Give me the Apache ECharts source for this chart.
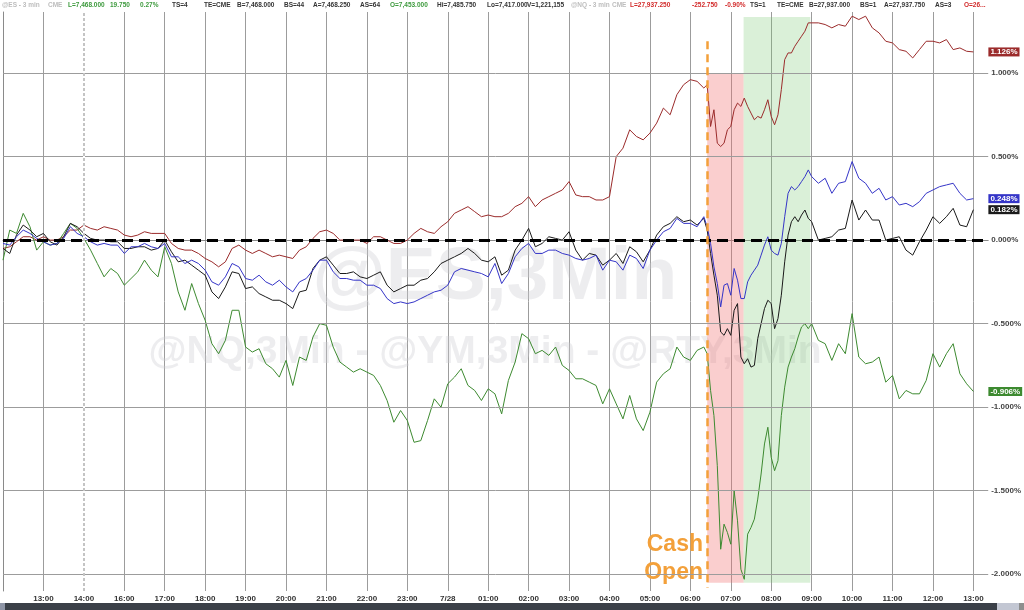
<!DOCTYPE html>
<html>
<head>
<meta charset="utf-8">
<script src="https://cdn.jsdelivr.net/npm/echarts@6/dist/echarts.min.js"></script>
<style>
html,body{margin:0;padding:0;background:#fff;}
#chart{width:1024px;height:610px;}
</style>
</head>
<body>
<div id="chart"></div>
<script>
// Session clock in minutes after 12:00 (the 14:00-15:00 halt is collapsed, as on the source chart)
const hourLabels = ['13:00','14:00','16:00','17:00','18:00','19:00','20:00','21:00','22:00','23:00','7/28',
  '01:00','02:00','03:00','04:00','05:00','06:00','07:00','08:00','09:00','10:00','11:00','12:00','13:00'];
const yTickValues = [1, 0.5, 0, -0.5, -1, -1.5, -2];
const gridLevels = [1, 0.5, -0.5, -1, -1.5, -2];

// sample times: 10-min overnight, 5-min around the cash open, 10-min afterwards
const times = [];
for (let m = 0; m <= 1040; m += 10) times.push(m);
for (let m = 1045; m <= 1200; m += 5) times.push(m);
for (let m = 1210; m <= 1440; m += 10) times.push(m);

// % change, RTY (red)
const rtyOvernight = [-0.05,-0.04,-0.01,0.02,0.02,0.00,0.02,0.00,0.00,0.02,
  0.06,0.06,0.09,0.07,0.06,0.08,0.07,0.06,0.03,0.02,
  0.03,0.05,0.04,0.04,0.04,-0.02,-0.05,-0.06,-0.06,-0.08,
  -0.11,-0.13,-0.16,-0.13,-0.05,-0.03,-0.06,-0.08,-0.06,-0.08,
  -0.10,-0.09,-0.10,-0.11,-0.06,-0.04,0.01,0.05,0.06,0.04,
  0.00,0.00,0.00,0.00,-0.02,0.02,0.02,0.00,-0.02,-0.02,
  0.00,0.04,0.07,0.05,0.04,0.08,0.11,0.16,0.18,0.20,
  0.17,0.14,0.15,0.14,0.14,0.16,0.20,0.22,0.26,0.20,
  0.24,0.26,0.28,0.30,0.35,0.27,0.26,0.26,0.24,0.24,
  0.26,0.50,0.55,0.66,0.62,0.60,0.64,0.70,0.79,0.75,
  0.87,0.93,0.96,0.95,0.91];
const rtyOpen = [0.93,0.68,0.78,0.58,0.56,0.58,0.66,0.68,0.78,0.82,0.80,0.85,0.80,0.76,0.72,0.74,
  0.73,0.78,0.84,0.74,0.69,0.75,0.90,1.08,1.12,1.12,1.16,1.19,1.22,1.25,1.30,1.30];
const rtyLate = [1.30,1.29,1.27,1.29,1.28,1.34,1.32,1.34,1.27,1.24,1.19,1.18,1.14,1.13,1.09,1.14,
  1.19,1.19,1.18,1.20,1.14,1.15,1.13,1.126];

// % change, ES (blue)
const esOvernight = [-0.02,-0.03,0.02,0.06,0.04,0.01,-0.01,-0.03,-0.02,0.01,
  0.08,0.04,0.02,-0.01,-0.03,-0.02,-0.03,-0.03,-0.08,-0.04,
  -0.04,-0.02,-0.04,-0.05,-0.02,-0.10,-0.10,-0.14,-0.12,-0.14,
  -0.18,-0.25,-0.27,-0.22,-0.14,-0.16,-0.23,-0.24,-0.21,-0.25,
  -0.27,-0.24,-0.28,-0.31,-0.25,-0.23,-0.18,-0.12,-0.12,-0.19,
  -0.23,-0.23,-0.24,-0.24,-0.27,-0.27,-0.29,-0.35,-0.38,-0.37,
  -0.38,-0.37,-0.35,-0.33,-0.31,-0.30,-0.27,-0.19,-0.17,-0.18,
  -0.19,-0.20,-0.22,-0.14,-0.26,-0.20,-0.10,-0.05,-0.02,-0.08,
  -0.08,-0.06,-0.06,-0.08,-0.09,-0.11,-0.12,-0.11,-0.09,-0.18,
  -0.12,-0.13,-0.18,-0.09,-0.11,-0.17,-0.06,0.00,0.05,0.07,
  0.13,0.10,0.10,0.08,0.14];
const esOpen = [0.08,-0.02,-0.16,-0.26,-0.40,-0.27,-0.26,-0.33,-0.17,-0.24,-0.35,-0.35,-0.25,-0.21,-0.18,-0.15,
  -0.09,-0.03,0.02,-0.06,-0.08,-0.09,-0.02,0.14,0.28,0.32,0.30,0.32,0.35,0.38,0.42,0.38];
const esLate = [0.34,0.37,0.28,0.34,0.35,0.47,0.37,0.34,0.28,0.31,0.24,0.26,0.21,0.22,0.20,0.23,
  0.28,0.30,0.32,0.33,0.34,0.28,0.24,0.248];

// % change, YM (black)
const ymOvernight = [-0.05,-0.08,0.03,0.09,0.06,0.02,0.04,-0.01,-0.03,0.02,
  0.10,0.08,0.04,0.01,0.00,0.00,-0.01,-0.01,-0.05,-0.05,
  -0.04,-0.04,-0.06,-0.05,0.00,-0.07,-0.13,-0.12,-0.15,-0.18,
  -0.21,-0.31,-0.35,-0.28,-0.19,-0.20,-0.29,-0.28,-0.32,-0.34,
  -0.36,-0.36,-0.38,-0.41,-0.31,-0.30,-0.17,-0.12,-0.10,-0.15,
  -0.20,-0.20,-0.19,-0.22,-0.23,-0.21,-0.19,-0.27,-0.31,-0.29,
  -0.27,-0.27,-0.24,-0.23,-0.19,-0.14,-0.12,-0.10,-0.08,-0.05,
  -0.08,-0.12,-0.13,-0.10,-0.21,-0.18,-0.06,0.00,0.07,-0.04,
  -0.02,0.02,0.01,0.00,0.05,-0.06,-0.12,-0.08,-0.09,-0.15,
  -0.12,-0.08,-0.14,-0.04,-0.07,-0.13,-0.06,0.03,0.08,0.10,
  0.14,0.11,0.12,0.09,0.13];
const ymOpen = [0.06,-0.08,-0.21,-0.33,-0.55,-0.57,-0.53,-0.57,-0.42,-0.38,-0.70,-0.74,-0.71,-0.76,-0.75,-0.59,
  -0.50,-0.41,-0.36,-0.38,-0.53,-0.47,-0.33,-0.13,0.03,0.11,0.14,0.11,0.15,0.18,0.13,0.11];
const ymLate = [0.00,0.01,0.02,0.06,0.07,0.24,0.12,0.18,0.12,0.12,0.00,0.01,0.02,-0.06,-0.09,-0.01,
  0.06,0.14,0.10,0.14,0.19,0.09,0.08,0.182];

// % change, NQ (green)
const nqOvernight = [-0.12,0.06,0.04,0.16,0.08,-0.06,-0.01,-0.03,-0.02,0.04,
  0.10,0.07,0.01,-0.06,-0.14,-0.22,-0.17,-0.20,-0.27,-0.23,
  -0.19,-0.12,-0.18,-0.22,-0.04,-0.14,-0.31,-0.42,-0.26,-0.38,
  -0.48,-0.62,-0.68,-0.60,-0.42,-0.42,-0.64,-0.67,-0.65,-0.74,
  -0.77,-0.82,-0.72,-0.87,-0.70,-0.72,-0.58,-0.50,-0.51,-0.64,
  -0.73,-0.76,-0.79,-0.77,-0.79,-0.81,-0.87,-0.96,-1.09,-1.02,
  -1.08,-1.21,-1.20,-1.08,-0.95,-1.00,-0.86,-0.82,-0.77,-0.87,
  -0.90,-0.96,-0.89,-0.92,-1.04,-0.84,-0.73,-0.56,-0.59,-0.68,
  -0.66,-0.69,-0.64,-0.75,-0.78,-0.83,-0.83,-0.85,-0.87,-0.98,
  -0.89,-0.98,-1.07,-0.93,-1.07,-1.14,-1.03,-0.85,-0.80,-0.77,
  -0.64,-0.70,-0.72,-0.66,-0.64];
const nqOpen = [-0.68,-0.90,-1.05,-1.35,-1.85,-1.70,-1.75,-1.82,-1.50,-1.68,-1.97,-2.03,-1.76,-1.72,-1.67,-1.55,
  -1.40,-1.22,-1.12,-1.30,-1.38,-1.32,-1.05,-0.88,-0.76,-0.70,-0.65,-0.58,-0.52,-0.50,-0.53,-0.50];
const nqLate = [-0.60,-0.62,-0.72,-0.62,-0.68,-0.44,-0.70,-0.74,-0.73,-0.70,-0.85,-0.81,-0.95,-0.90,-0.92,-0.92,
  -0.84,-0.68,-0.76,-0.68,-0.62,-0.80,-0.86,-0.906];

// event markers (session minutes)
const sessionBreak = 120;   // 14:00 halt
const cashOpen = 1045;      // cash open
const sellWindowEnd = 1099;
const recoveryEnd = 1198;

const seriesDefs = [
  { name: '@RTY', color: '#9b2b2b', values: rtyOvernight.concat(rtyOpen, rtyLate) },
  { name: '@NQ',  color: '#3d8a30', values: nqOvernight.concat(nqOpen, nqLate) },
  { name: '@YM',  color: '#1a1a1a', values: ymOvernight.concat(ymOpen, ymLate) },
  { name: '@ES',  color: '#3535c8', values: esOvernight.concat(esOpen, esLate) }
];

const FONT = '"Liberation Sans", Arial, sans-serif';
const chart = echarts.init(document.getElementById('chart'), null, { renderer: 'canvas' });

const lineSeries = seriesDefs.map(d => ({
  name: d.name,
  type: 'line',
  z: 2,
  showSymbol: false,
  symbol: 'none',
  data: times.map((t, k) => [t, d.values[k]]),
  lineStyle: { color: d.color, width: 1 },
  itemStyle: { color: d.color },
  endLabel: {
    show: true,
    distance: 15,
    formatter: p => p.value[1].toFixed(3) + '%',
    backgroundColor: d.color,
    color: '#fff',
    fontFamily: FONT,
    fontSize: 8,
    fontWeight: 'bold',
    padding: [1, 2, 0, 2]
  }
}));

const background = {
  name: 'bg', type: 'line', z: 1, data: [], silent: true,
  markArea: {
    silent: true,
    data: [
      [{ xAxis: cashOpen, yAxis: 1.0, itemStyle: { color: 'rgba(240,110,110,0.34)' } }, { xAxis: sellWindowEnd, yAxis: -2.05 }],
      [{ xAxis: sellWindowEnd, yAxis: 1.335, itemStyle: { color: 'rgba(120,200,110,0.27)' } }, { xAxis: recoveryEnd, yAxis: -2.05 }]
    ]
  },
  markLine: {
    silent: true, symbol: 'none', animation: false,
    label: { show: false },
    data: gridLevels.map(v => ({ yAxis: v, lineStyle: { color: '#9c9c9c', width: 1, type: 'solid' } }))
      .concat([
        { xAxis: sessionBreak, lineStyle: { color: '#ffffff', width: 2, type: 'solid' } },
        { xAxis: sessionBreak, lineStyle: { color: '#c4c4c4', width: 2, type: [3, 2] } }
      ])
  }
};

const foreground = {
  name: 'fg', type: 'line', z: 3, data: [], silent: true,
  markLine: {
    silent: true, symbol: 'none', animation: false,
    label: { show: false },
    data: [
      { yAxis: 0, lineStyle: { color: '#000', width: 3, type: [11, 6] } },
      [{ xAxis: cashOpen, yAxis: 1.19, lineStyle: { color: '#f3a03a', width: 2.5, type: [8, 5] } },
       { xAxis: cashOpen, yAxis: -2.08 }]
    ]
  }
};

const headerItems = [
  ['@ES - 3 min', 2, '#bdbdbd'], ['CME', 48, '#bdbdbd'], ['L=7,468.000', 68, '#3d9a3d'], ['19.750', 110, '#3d9a3d'],
  ['0.27%', 140, '#3d9a3d'], ['TS=4', 172, '#333'], ['TE=CME', 204, '#333'], ['B=7,468.000', 237, '#333'],
  ['BS=44', 284, '#333'], ['A=7,468.250', 313, '#333'], ['AS=64', 360, '#333'], ['O=7,453.000', 390, '#3d9a3d'],
  ['Hi=7,485.750', 437, '#333'], ['Lo=7,417.000', 487, '#333'], ['V=1,221,155', 527, '#333'],
  ['@NQ - 3 min', 571, '#bdbdbd'], ['CME', 612, '#bdbdbd'], ['L=27,937.250', 630, '#d22a2a'], ['-252.750', 692, '#d22a2a'],
  ['-0.90%', 725, '#d22a2a'], ['TS=1', 750, '#333'], ['TE=CME', 777, '#333'], ['B=27,937.000', 809, '#333'],
  ['BS=1', 860, '#333'], ['A=27,937.750', 884, '#333'], ['AS=3', 935, '#333'], ['O=26...', 964, '#d22a2a']
];

const graphics = [
  { type: 'text', z: 1, silent: true, style: { text: '@ES,3Min', x: 495, y: 278, textAlign: 'center', textVerticalAlign: 'middle',
      font: 'bold 75px ' + FONT, fill: 'rgba(205,205,212,0.36)' } },
  { type: 'text', z: 1, silent: true, style: { text: '@NQ,3Min - @YM,3Min - @RTY,3Min', x: 485, y: 352, textAlign: 'center', textVerticalAlign: 'middle',
      font: 'bold 39px ' + FONT, fill: 'rgba(205,205,212,0.36)' } },
  { type: 'text', z: 5, silent: true, style: { text: 'Cash', x: 703, y: 545, textAlign: 'right', textVerticalAlign: 'middle',
      font: 'bold 23px ' + FONT, fill: '#f3a03a' } },
  { type: 'text', z: 5, silent: true, style: { text: 'Open', x: 703, y: 573, textAlign: 'right', textVerticalAlign: 'middle',
      font: 'bold 23px ' + FONT, fill: '#f3a03a' } },
  { type: 'rect', z: 5, silent: true, shape: { x: 0, y: 603, width: 5, height: 7 }, style: { fill: '#8e95a6' } },
  { type: 'rect', z: 5, silent: true, shape: { x: 5, y: 603, width: 992, height: 7 }, style: { fill: '#3b4048' } },
  { type: 'rect', z: 5, silent: true, shape: { x: 997, y: 603, width: 22, height: 7 }, style: { fill: '#c3c7d3' } },
  { type: 'rect', z: 5, silent: true, shape: { x: 1019, y: 603, width: 5, height: 7 }, style: { fill: '#8e8e8e' } }
].concat(headerItems.map(h => ({
  type: 'text', z: 5, silent: true,
  style: { text: h[0], x: h[1], y: 5, textVerticalAlign: 'middle', font: 'bold 6.5px ' + FONT, fill: h[2] }
})));

chart.setOption({
  animation: false,
  backgroundColor: '#ffffff',
  textStyle: { fontFamily: FONT },
  grid: { left: 2, right: 35, top: 12, bottom: 19, containLabel: false },
  xAxis: {
    type: 'value', min: 0, max: 1462, interval: 60,
    axisLine: { show: true, lineStyle: { color: '#8a8a8a', width: 1 } },
    axisTick: { show: false },
    axisLabel: {
      fontSize: 8, fontWeight: 'bold', color: '#333', margin: 4, fontFamily: FONT,
      formatter: v => (v > 0 && v <= 1440 && v % 60 === 0) ? hourLabels[v / 60 - 1] : ''
    },
    splitLine: { show: true, showMinLine: false, showMaxLine: false, lineStyle: { color: '#9c9c9c', width: 1 } }
  },
  yAxis: {
    type: 'value', position: 'right', min: -2.1, max: 1.365,
    axisLine: { show: true, lineStyle: { color: '#8a8a8a', width: 1 } },
    axisTick: { show: true, customValues: yTickValues, length: 3, lineStyle: { color: '#666' } },
    axisLabel: {
      customValues: yTickValues, fontSize: 8, fontWeight: 'bold', color: '#444', margin: 3, fontFamily: FONT,
      formatter: v => v.toFixed(3) + '%'
    },
    splitLine: { show: false }
  },
  graphic: { elements: graphics },
  series: [background].concat(lineSeries, [foreground])
});
</script>
</body>
</html>
